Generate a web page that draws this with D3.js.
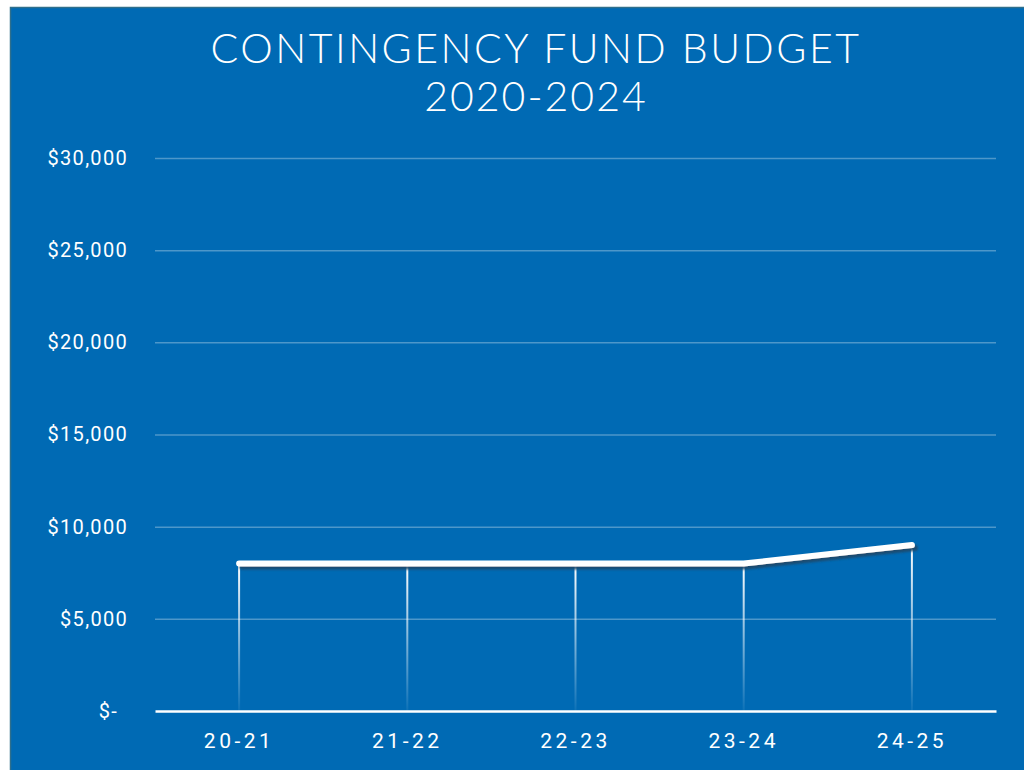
<!DOCTYPE html>
<html>
<head>
<meta charset="utf-8">
<script src="https://cdn.jsdelivr.net/npm/d3@7"></script>
<style>
  html, body { margin: 0; padding: 0; background: #fff; overflow: hidden; }
  svg { display: block; }
</style>
</head>
<body>
<div id="chart"></div>
<script>
const years = ["20-21", "21-22", "22-23", "23-24", "24-25"];
const budget = [8000, 8000, 8000, 8000, 9000];
const yTicks = [0, 5000, 10000, 15000, 20000, 25000, 30000];
const titleLines = ["CONTINGENCY FUND BUDGET", "2020-2024"];

const width = 1024, height = 770;
const margin = { top: 158, right: 28, bottom: 59, left: 155 };
const innerWidth = width - margin.left - margin.right;
const innerHeight = height - margin.top - margin.bottom;

const svg = d3.select("#chart").append("svg")
    .attr("width", width)
    .attr("height", height);

const defs = svg.append("defs");
const grad = defs.append("linearGradient")
    .attr("id", "dropFade")
    .attr("x1", 0).attr("y1", 0).attr("x2", 0).attr("y2", 1);
grad.append("stop").attr("offset", "0%").attr("stop-color", "#fff").attr("stop-opacity", 1);
grad.append("stop").attr("offset", "100%").attr("stop-color", "#fff").attr("stop-opacity", 0.05);

const shadow = defs.append("filter").attr("id", "shadow")
    .attr("x", "-10%").attr("y", "-50%").attr("width", "120%").attr("height", "300%");
shadow.append("feDropShadow")
    .attr("dx", 3).attr("dy", 3).attr("stdDeviation", 1)
    .attr("flood-color", "#1b4a6b").attr("flood-opacity", 0.9);

// background panel
svg.append("rect")
    .attr("x", 10).attr("y", 7)
    .attr("width", width - 10).attr("height", height - 7)
    .attr("fill", "#006ab4");
svg.append("path")
    .attr("d", `M10.5,${height} V7.5 H${width}`)
    .attr("fill", "none")
    .attr("stroke", "#2f6f8c")
    .attr("stroke-width", 1.5);

svg.selectAll(".title")
  .data(titleLines)
  .join("text")
    .attr("class", "title")
    .attr("x", 536)
    .attr("y", (d, i) => 63 + i * 48)
    .attr("text-anchor", "middle")
    .attr("fill", "#fff")
    .style("font-family", "Lato, 'Open Sans', sans-serif")
    .style("font-weight", 300)
    .style("font-size", "41px")
    .style("letter-spacing", (d, i) => i === 0 ? "2.5px" : "2px")
    .text(d => d);

const g = svg.append("g")
    .attr("transform", `translate(${margin.left},${margin.top})`);

const x = d3.scaleBand()
    .domain(years)
    .range([0, innerWidth]);

const y = d3.scaleLinear()
    .domain([0, 30000])
    .range([innerHeight, 0]);

const fmt = d3.format(",");

g.append("g")
    .attr("class", "y-axis")
    .call(d3.axisLeft(y)
      .tickValues(yTicks)
      .tickSize(-innerWidth)
      .tickPadding(27)
      .tickFormat(d => d === 0 ? "$-" : "$" + fmt(d)))
    .call(a => a.select(".domain").remove())
    .call(a => a.selectAll("line")
      .attr("stroke", "#fff")
      .attr("stroke-opacity", d => d === 0 ? 0 : 0.3)
      .attr("stroke-width", 1.5))
    .call(a => a.selectAll("text")
      .attr("fill", "#fff")
      .attr("dx", d => d === 0 ? -10 : 0)
      .style("font-family", "Roboto, 'Liberation Sans', sans-serif")
      .style("font-size", "20px")
      .style("letter-spacing", "1.3px"));

const cx = d => x(d) + x.bandwidth() / 2;

// drop lines
g.append("g")
  .selectAll("rect")
  .data(years)
  .join("rect")
    .attr("x", d => cx(d) - 1)
    .attr("y", (d, i) => y(budget[i]))
    .attr("width", 2)
    .attr("height", (d, i) => innerHeight - y(budget[i]))
    .attr("fill", "url(#dropFade)");

// x axis
g.append("g")
    .attr("class", "x-axis")
    .attr("transform", `translate(0,${innerHeight})`)
    .call(d3.axisBottom(x).tickSize(0).tickPadding(22))
    .call(a => a.select(".domain").attr("stroke", "#fff").attr("stroke-width", 2.5))
    .call(a => a.selectAll("text")
      .attr("fill", "#fff")
      .style("font-family", "Roboto, 'Liberation Sans', sans-serif")
      .style("font-size", "21px")
      .style("letter-spacing", "3.5px"));

const line = d3.line()
    .x((d, i) => cx(years[i]))
    .y(d => y(d));

g.append("path")
    .datum(budget)
    .attr("d", line)
    .attr("fill", "none")
    .attr("stroke", "#fff")
    .attr("stroke-width", 6)
    .attr("stroke-linecap", "round")
    .attr("stroke-linejoin", "round")
    .attr("filter", "url(#shadow)");
</script>
</body>
</html>
